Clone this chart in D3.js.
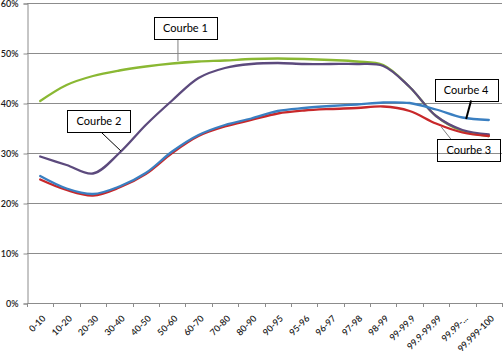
<!DOCTYPE html>
<html><head><meta charset="utf-8">
<script src="https://cdn.jsdelivr.net/npm/d3@7"></script>
<style>
html,body{margin:0;padding:0;background:#fff;}
svg{display:block;}
text{font-family:Lato,"Open Sans",sans-serif;}
</style></head>
<body>
<svg id="c" width="503" height="351"></svg>
<script>
const categories = ["0-10","10-20","20-30","30-40","40-50","50-60","60-70","70-80","80-90","90-95","95-96","96-97","97-98","98-99","99-99.9","99.9-99.99","99.99-...","99.999-100"];
const courbe1 = [40.4,43.6,45.4,46.5,47.3,47.9,48.3,48.5,48.8,48.9,48.8,48.6,48.3,47.6,43.2,37.4,34.4,33.4];
const courbe2 = [29.3,27.6,25.9,30.0,35.6,40.5,45.0,47.0,47.8,48.0,47.8,47.8,47.8,47.4,43.2,37.4,34.6,33.7];
const courbe3 = [24.7,22.6,21.5,23.1,25.8,30.0,33.4,35.3,36.6,37.9,38.5,38.8,39.0,39.3,38.4,35.9,34.1,33.4];
const courbe4 = [25.4,22.9,21.8,23.3,26.0,30.3,33.6,35.6,36.9,38.4,39.0,39.4,39.7,40.1,40.0,38.7,37.1,36.6];
const yTicks = [0,10,20,30,40,50,60];
const seriesNames = ["Courbe 1","Courbe 2","Courbe 3","Courbe 4"];
const seriesColors = ["#8ab833","#5c4a7d","#c8282a","#3a7fc1"];
// annotation: target point (category index, value), box centre offset from target (px), leader start x offset from box centre
const annotations = [
  {name:"Courbe 1", xi:5.22, v:48.4, dx:7.5, dy:-33, lx:-7.5, stroke:"#808080", sw:1},
  {name:"Courbe 2", xi:3.06, v:30.4, dx:-22, dy:-30, lx:2, stroke:"#000", sw:1},
  {name:"Courbe 3", xi:15.2, v:35.2, dx:27.5, dy:23, lx:-18, stroke:"#808080", sw:1},
  {name:"Courbe 4", xi:16.14, v:36.8, dx:0, dy:-29.5, lx:5, stroke:"#000", sw:2}
];

const svg = d3.select("#c");
const L = 27, R = 502, T = 3, B = 303;
const x = d3.scaleBand().domain(categories).range([L, R]);
const y = d3.scaleLinear().domain([0, 60]).range([B, T]);
const xc = i => L + (i + 0.5) * x.bandwidth();

// gridlines
svg.append("g").selectAll("line").data(yTicks.filter(d => d > 0)).join("line")
  .attr("x1", L).attr("x2", R)
  .attr("y1", d => Math.round(y(d)) + 0.5).attr("y2", d => Math.round(y(d)) + 0.5)
  .attr("stroke", "#8c8c8c").attr("stroke-width", 1);

// y axis
const yAxis = d3.axisLeft(y).tickValues(yTicks).tickSize(4).tickPadding(5).tickFormat(d => d + "%");
const gy = svg.append("g").attr("transform", `translate(${L + 0.5},0.5)`).call(yAxis);
gy.select(".domain").attr("stroke", "#8c8c8c");
gy.selectAll(".tick line").attr("stroke", "#8c8c8c");
gy.selectAll(".tick text").attr("font-size", 9).attr("fill", "#1a1a1a").attr("font-family", "Lato,sans-serif").attr("font-weight", 600);

// x axis line
svg.append("line").attr("x1", L).attr("x2", R).attr("y1", B + 0.5).attr("y2", B + 0.5).attr("stroke", "#8c8c8c");
// x tick marks at band boundaries
svg.append("g").selectAll("line").data(d3.range(categories.length + 1)).join("line")
  .attr("x1", k => Math.round(L + k * x.bandwidth()) + 0.5)
  .attr("x2", k => Math.round(L + k * x.bandwidth()) + 0.5)
  .attr("y1", B).attr("y2", B + 4).attr("stroke", "#8c8c8c");
// x labels
svg.append("g").selectAll("text").data(categories).join("text")
  .attr("transform", (d, i) => `translate(${xc(i) + 6},${B + 16}) rotate(-45)`)
  .attr("text-anchor", "end").attr("font-size", 9).attr("font-weight", 600).attr("fill", "#1a1a1a")
  .text(d => d);

// lines
const allSeries = [courbe1, courbe2, courbe3, courbe4];
const line = d3.line().x((d, i) => xc(i)).y(d => y(d)).curve(d3.curveCatmullRom.alpha(0.5));
svg.append("g").selectAll("path").data(allSeries).join("path")
  .attr("d", d => line(d)).attr("fill", "none")
  .attr("stroke", (d, i) => seriesColors[i]).attr("stroke-width", 2.3)
  .attr("stroke-linejoin", "round").attr("stroke-linecap", "round");

// annotations
const bw = 63, bh = 22;
const ag = svg.append("g");
annotations.forEach(a => {
  const px = xc(a.xi), ty = y(a.v);
  const cx = px + a.dx, cy = ty + a.dy;
  const ey = a.dy < 0 ? cy + bh / 2 : cy - bh / 2;
  ag.append("line").attr("x1", cx + a.lx).attr("y1", ey).attr("x2", px).attr("y2", ty)
    .attr("stroke", a.stroke).attr("stroke-width", a.sw);
  ag.append("rect").attr("x", Math.round(cx - bw / 2) + 0.5).attr("y", Math.round(cy - bh / 2) + 0.5)
    .attr("width", bw).attr("height", bh).attr("fill", "none").attr("stroke", "#000").attr("stroke-width", 1);
  ag.append("text").attr("x", cx).attr("y", cy + 4).attr("text-anchor", "middle")
    .attr("font-size", 11).attr("fill", "#000").text(a.name);
});
</script>
</body></html>
